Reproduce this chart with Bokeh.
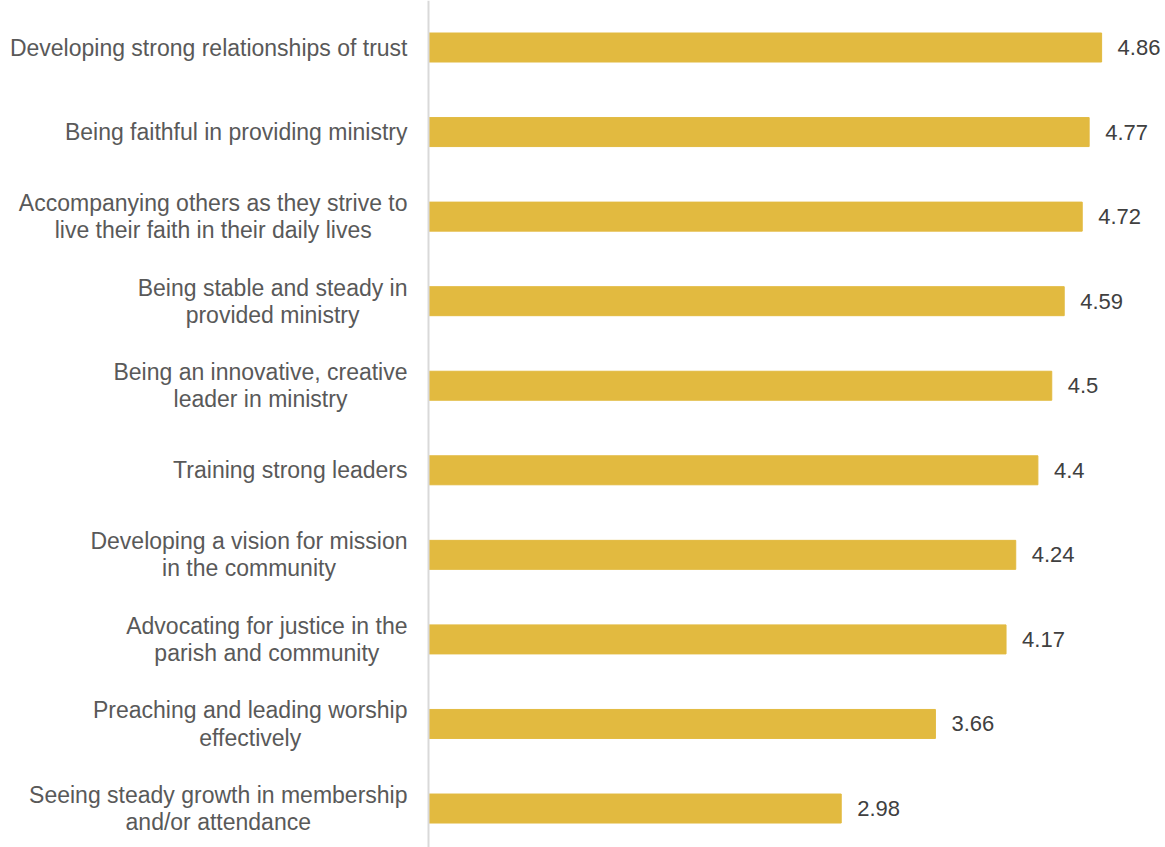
from bokeh.plotting import figure
from bokeh.models import ColumnDataSource, Range1d, Span
from bokeh.core.properties import value
from bokeh.embed import file_html
from bokeh.resources import INLINE

categories = [
    "Developing strong relationships of trust",
    "Being faithful in providing ministry",
    "Accompanying others as they strive to\nlive their faith in their daily lives",
    "Being stable and steady in\nprovided ministry",
    "Being an innovative, creative\nleader in ministry",
    "Training strong leaders",
    "Developing a vision for mission\nin the community",
    "Advocating for justice in the\nparish and community",
    "Preaching and leading worship\neffectively",
    "Seeing steady growth in membership\nand/or attendance",
]
values = [4.86, 4.77, 4.72, 4.59, 4.5, 4.4, 4.24, 4.17, 3.66, 2.98]
value_labels = ["4.86", "4.77", "4.72", "4.59", "4.5", "4.4", "4.24", "4.17", "3.66", "2.98"]

n = len(categories)
ypos = [n - 1 - i for i in range(n)]

src = ColumnDataSource(dict(cat=categories, val=values, lab=value_labels, y=ypos, zero=[0] * n))

W, H = 1165, 847
px_per_unit = 138.5
left_px = 428
x0 = -left_px / px_per_unit
x1 = (W - left_px) / px_per_unit

p = figure(width=W, height=H, output_backend="svg", toolbar_location=None,
           x_range=Range1d(x0, x1), y_range=Range1d(-0.461, n - 1 + 0.556),
           min_border=0, outline_line_color=None, background_fill_color="white",
           border_fill_color="white")
p.axis.visible = False
p.grid.visible = False

p.hbar(y="y", right="val", left=0, height=0.343, source=src, color="#E2BA40")

p.add_layout(Span(location=0, dimension="height", line_color="#D9D9D9", line_width=2))

font = value("Liberation Sans")
p.text(x="zero", y="y", text="cat", source=src, x_offset=-21,
       text_align="center", anchor="center_right", text_baseline="middle",
       text_font=font, text_font_size="23px", text_color="#595959",
       text_line_height=1.05)
p.text(x="val", y="y", text="lab", source=src, x_offset=16,
       text_align="left", text_baseline="middle",
       text_font=font, text_font_size="22px", text_color="#404040")

open("out.html", "w").write(file_html(p, INLINE))
